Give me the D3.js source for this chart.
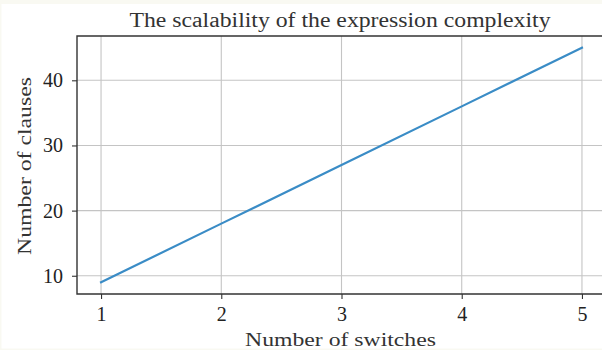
<!DOCTYPE html>
<html>
<head>
<meta charset="utf-8">
<script src="https://cdn.jsdelivr.net/npm/d3@7"></script>
<style>
  html, body { margin: 0; padding: 0; background: #fff; }
  svg { display: block; }
  .tick text { font-family: "Liberation Serif", "DejaVu Serif", serif; }
</style>
</head>
<body>
<svg id="chart" width="602" height="350"></svg>
<script>
// data
const switches = [1, 2, 3, 4, 5];
const clauses = [9, 18, 27, 36, 45];
const xTicks = [1, 2, 3, 4, 5];
const yTicks = [10, 20, 30, 40];

const W = 602, H = 350;
const margin = { top: 36, right: -4, bottom: 56, left: 77 };

const svg = d3.select('#chart');

// faint off-white frame round the capture
svg.append('rect').attr('x', 0).attr('y', 0).attr('width', W).attr('height', H).attr('fill', '#f9f9f2');
svg.append('rect').attr('x', 1.5).attr('y', 4).attr('width', W - 1.5).attr('height', H - 5.5).attr('fill', '#fff');

const x = d3.scaleLinear()
  .domain([0.8, 5.2])
  .range([margin.left, W - margin.right]);

const y = d3.scaleLinear()
  .domain([7.2, 46.8])
  .range([H - margin.bottom, margin.top]);

const g = svg.append('g');

// grid lines
g.selectAll('line.vgrid')
  .data(xTicks)
  .enter()
  .append('line')
  .attr('class', 'vgrid')
  .attr('x1', d => x(d)).attr('x2', d => x(d))
  .attr('y1', y.range()[0]).attr('y2', y.range()[1])
  .attr('stroke', '#c4c4c4')
  .attr('stroke-width', 1.1);

g.selectAll('line.hgrid')
  .data(yTicks)
  .enter()
  .append('line')
  .attr('class', 'hgrid')
  .attr('x1', x.range()[0]).attr('x2', x.range()[1])
  .attr('y1', d => y(d)).attr('y2', d => y(d))
  .attr('stroke', '#c4c4c4')
  .attr('stroke-width', 1.1);

// the data line
const line = d3.line()
  .x((d, i) => x(switches[i]))
  .y(d => y(d));

g.append('path')
  .datum(clauses)
  .attr('d', line)
  .attr('fill', 'none')
  .attr('stroke', '#3a8cc6')
  .attr('stroke-width', 2.2)
  .attr('stroke-linecap', 'square');

// axes
const xAxis = svg.append('g')
  .attr('transform', `translate(0,${y.range()[0]})`)
  .call(d3.axisBottom(x).tickValues(xTicks).tickSize(5).tickPadding(8).tickFormat(d3.format('d')));

const yAxis = svg.append('g')
  .attr('transform', `translate(${x.range()[0]},0)`)
  .call(d3.axisLeft(y).tickValues(yTicks).tickSize(5).tickPadding(9).tickFormat(d3.format('d')));

[xAxis, yAxis].forEach(a => {
  a.select('.domain').remove();
  a.selectAll('.tick line').attr('stroke', '#333').attr('stroke-width', 1.1);
  a.selectAll('.tick text').attr('font-size', 20).attr('fill', '#222');
});

// spines (top, left, bottom; the right one falls outside the capture)
const [x0, x1] = x.range();
const [yb, yt] = y.range();
svg.append('path')
  .attr('d', `M${x1},${yt}H${x0}V${yb}H${x1}`)
  .attr('fill', 'none')
  .attr('stroke', '#333')
  .attr('stroke-width', 1.4);

// title and axis labels
const font = '"Liberation Serif", "DejaVu Serif", serif';

svg.append('text')
  .attr('x', 340).attr('y', 27)
  .attr('text-anchor', 'middle')
  .attr('font-family', font)
  .attr('font-size', 20.5)
  .attr('fill', '#333')
  .attr('textLength', 421)
  .attr('lengthAdjust', 'spacingAndGlyphs')
  .text('The scalability of the expression complexity');

svg.append('text')
  .attr('x', 340.5).attr('y', 346)
  .attr('text-anchor', 'middle')
  .attr('font-family', font)
  .attr('font-size', 19.5)
  .attr('fill', '#333')
  .attr('textLength', 191)
  .attr('lengthAdjust', 'spacingAndGlyphs')
  .text('Number of switches');

svg.append('text')
  .attr('transform', 'translate(31,166) rotate(-90)')
  .attr('text-anchor', 'middle')
  .attr('font-family', font)
  .attr('font-size', 19.5)
  .attr('fill', '#333')
  .attr('textLength', 178)
  .attr('lengthAdjust', 'spacingAndGlyphs')
  .text('Number of clauses');
</script>
</body>
</html>
